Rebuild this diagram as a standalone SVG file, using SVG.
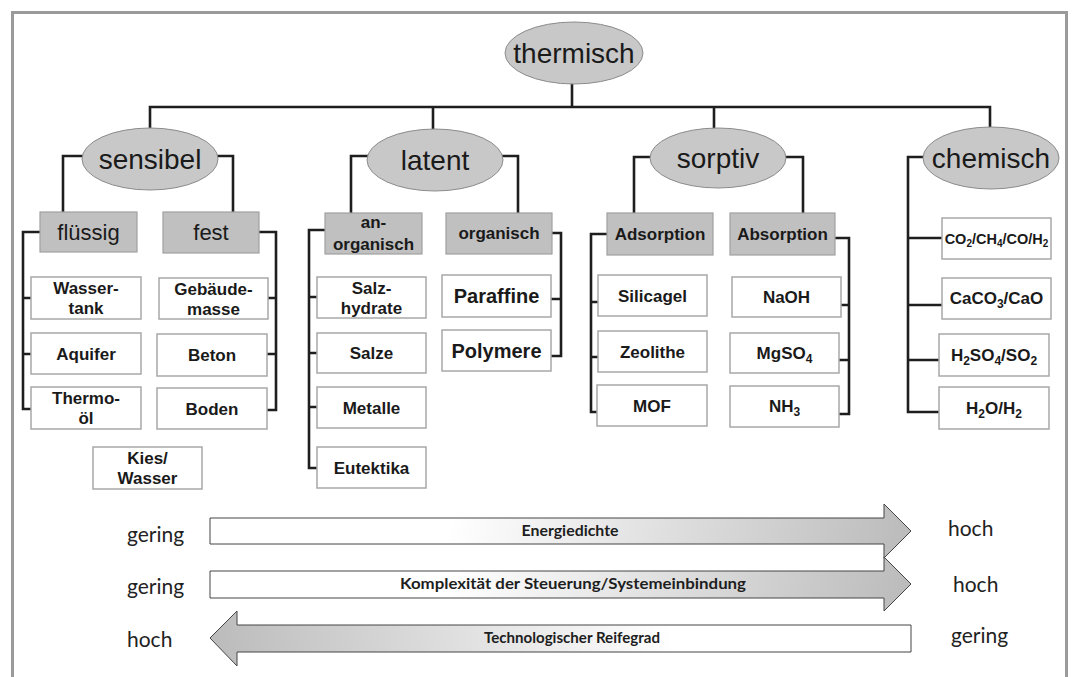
<svg xmlns="http://www.w3.org/2000/svg" width="1073" height="677" viewBox="0 0 1073 677">
<defs>
<style>
.frame{fill:none;stroke:#9a9a9a;stroke-width:3}
.conn{fill:none;stroke:#1e1e1e;stroke-width:2.6;stroke-linejoin:miter;stroke-linecap:square}
.ell{fill:#c8c8c8;stroke:#8c8c8c;stroke-width:1}
.cat{fill:#c0c0c0;stroke:#a0a0a0;stroke-width:1.2}
.item{fill:#fff;stroke:#a8a8a8;stroke-width:1.5}
text{fill:#1a1a1a}
.te{font-family:"Liberation Sans",Arial,sans-serif;font-size:28px;text-anchor:middle}
.tc{font-family:"Liberation Sans",Arial,sans-serif;font-size:22px;text-anchor:middle}
.tb{font-family:"Liberation Sans",Arial,sans-serif;font-size:17px;font-weight:bold;text-anchor:middle}
.tp{font-family:"Liberation Sans",Arial,sans-serif;font-size:20px;font-weight:bold;text-anchor:middle}
.lbl{font-family:Lato,"Open Sans",sans-serif;font-size:21px;fill:#222}
.al{font-family:Lato,"Open Sans",sans-serif;font-size:15px;font-weight:bold;text-anchor:middle;fill:#1e1e1e}
.arr{stroke:#444;stroke-width:1}
</style>
<linearGradient id="gR" x1="0" y1="0" x2="1" y2="0.02">
<stop offset="0" stop-color="#ffffff"/>
<stop offset="0.35" stop-color="#ffffff"/>
<stop offset="1" stop-color="#bcbcbc"/>
</linearGradient>
<linearGradient id="gL" x1="1" y1="0" x2="0" y2="0.02">
<stop offset="0" stop-color="#ffffff"/>
<stop offset="0.35" stop-color="#ffffff"/>
<stop offset="1" stop-color="#bcbcbc"/>
</linearGradient>
</defs>
<path class="frame" d="M12.5,677 V12.5 H1066.5 V677"/>
<g id="connectors">
<path class="conn" d="M572,84 V107 M150,128 V107 H990 V127 M433,107 V129 M714,107 V128"/>
<path class="conn" d="M84,156 H63 V211 M217,156 H233 V211"/>
<path class="conn" d="M40,232 H23 V409 H31 M23,298 H31 M23,354 H31"/>
<path class="conn" d="M259,232 H276 V410 H267 M276,298 H268 M276,354 H267"/>
<path class="conn" d="M368,156 H351 V212 M502,156 H518 V213"/>
<path class="conn" d="M325,230 H309 V468 H317 M309,297 H317 M309,353 H317 M309,407 H317"/>
<path class="conn" d="M552,233 H561 V356 H551 M561,299 H551"/>
<path class="conn" d="M651,157 H634 V213 M786,157 H803 V213"/>
<path class="conn" d="M607,234 H591 V412 H597 M591,302 H598 M591,357 H598"/>
<path class="conn" d="M835,238 H849 V414 H839 M849,305 H841 M849,360 H839"/>
<path class="conn" d="M924,157 H908 V412 H939 M908,238 H942 M908,305 H942 M908,360 H939"/>
</g>
<g id="thermisch"><ellipse class="ell" cx="574" cy="53" rx="69" ry="31"/><text class="te" x="574" y="63">thermisch</text></g>
<g id="sensibel"><ellipse class="ell" cx="150" cy="159" rx="68" ry="31"/><text class="te" x="150" y="169">sensibel</text></g>
<g id="latent"><ellipse class="ell" cx="435" cy="160" rx="68" ry="31"/><text class="te" x="435" y="170">latent</text></g>
<g id="sorptiv"><ellipse class="ell" cx="718" cy="158" rx="68" ry="30"/><text class="te" x="718" y="168">sorptiv</text></g>
<g id="chemisch"><ellipse class="ell" cx="991" cy="158" rx="68" ry="31"/><text class="te" x="991" y="168">chemisch</text></g>

<g id="fluessig"><rect class="cat" x="40" y="212" width="97" height="40"/><text class="tc" x="88.5" y="240">flüssig</text></g>
<g id="fest"><rect class="cat" x="163" y="212" width="96" height="41"/><text class="tc" x="211" y="240">fest</text></g>
<g id="anorganisch"><rect class="cat" x="325" y="213" width="97" height="41"/><text class="tb" x="373.5" y="228">an-</text><text class="tb" x="373.5" y="250">organisch</text></g>
<g id="organisch"><rect class="cat" x="446" y="213" width="106" height="41"/><text class="tb" x="499" y="239">organisch</text></g>
<g id="adsorption"><rect class="cat" x="607" y="213" width="106" height="42"/><text class="tb" x="660" y="240">Adsorption</text></g>
<g id="absorption"><rect class="cat" x="730" y="213" width="105" height="42"/><text class="tb" x="782.5" y="240">Absorption</text></g>

<g id="wassertank"><rect class="item" x="31" y="277" width="110" height="42"/><text class="tb" x="86" y="294">Wasser-</text><text class="tb" x="86" y="314">tank</text></g>
<g id="aquifer"><rect class="item" x="31" y="333" width="110" height="41"/><text class="tb" x="86" y="360">Aquifer</text></g>
<g id="thermooel"><rect class="item" x="31" y="387" width="110" height="42"/><text class="tb" x="86" y="404">Thermo-</text><text class="tb" x="86" y="424">öl</text></g>
<g id="kieswasser"><rect class="item" x="93" y="447" width="109" height="42"/><text class="tb" x="147.5" y="464">Kies/</text><text class="tb" x="147.5" y="484">Wasser</text></g>
<g id="gebaeudemasse"><rect class="item" x="159" y="278" width="109" height="41"/><text class="tb" x="213.5" y="295">Gebäude-</text><text class="tb" x="213.5" y="315">masse</text></g>
<g id="beton"><rect class="item" x="157" y="334" width="110" height="42"/><text class="tb" x="212" y="361">Beton</text></g>
<g id="boden"><rect class="item" x="157" y="388" width="110" height="41"/><text class="tb" x="212" y="415">Boden</text></g>

<g id="salzhydrate"><rect class="item" x="317" y="277" width="109" height="41"/><text class="tb" x="371.5" y="294">Salz-</text><text class="tb" x="371.5" y="314">hydrate</text></g>
<g id="salze"><rect class="item" x="317" y="333" width="109" height="40"/><text class="tb" x="371.5" y="359">Salze</text></g>
<g id="metalle"><rect class="item" x="317" y="387" width="109" height="41"/><text class="tb" x="371.5" y="414">Metalle</text></g>
<g id="eutektika"><rect class="item" x="317" y="447" width="109" height="41"/><text class="tb" x="371.5" y="474">Eutektika</text></g>
<g id="paraffine"><rect class="item" x="442" y="275" width="109" height="42"/><text class="tp" x="496.5" y="303">Paraffine</text></g>
<g id="polymere"><rect class="item" x="442" y="330" width="109" height="41"/><text class="tp" x="496.5" y="358">Polymere</text></g>

<g id="silicagel"><rect class="item" x="598" y="275" width="109" height="41"/><text class="tb" x="652.5" y="302">Silicagel</text></g>
<g id="zeolithe"><rect class="item" x="598" y="331" width="109" height="41"/><text class="tb" x="652.5" y="358">Zeolithe</text></g>
<g id="mof"><rect class="item" x="597" y="385" width="110" height="41"/><text class="tb" x="652" y="412">MOF</text></g>
<g id="naoh"><rect class="item" x="732" y="277" width="109" height="40"/><text class="tb" x="786.5" y="303">NaOH</text></g>
<g id="mgso4"><rect class="item" x="730" y="333" width="109" height="40"/><text class="tb" x="784.5" y="359">MgSO<tspan dy="4" font-size="12">4</tspan></text></g>
<g id="nh3"><rect class="item" x="730" y="386" width="109" height="41"/><text class="tb" x="784.5" y="412">NH<tspan dy="4" font-size="12">3</tspan></text></g>

<g id="co2ch4"><rect class="item" x="942" y="218" width="109" height="41"/><text class="tb" x="996.5" y="244" style="font-size:14.5px">CO<tspan dy="3" font-size="10">2</tspan><tspan dy="-3">/CH</tspan><tspan dy="3" font-size="10">4</tspan><tspan dy="-3">/CO/H</tspan><tspan dy="3" font-size="10">2</tspan></text></g>
<g id="caco3"><rect class="item" x="942" y="278" width="109" height="41"/><text class="tb" x="996.5" y="304">CaCO<tspan dy="4" font-size="12">3</tspan><tspan dy="-4">/CaO</tspan></text></g>
<g id="h2so4"><rect class="item" x="939" y="334" width="110" height="42"/><text class="tb" x="994" y="361">H<tspan dy="4" font-size="12">2</tspan><tspan dy="-4">SO</tspan><tspan dy="4" font-size="12">4</tspan><tspan dy="-4">/SO</tspan><tspan dy="4" font-size="12">2</tspan></text></g>
<g id="h2oh2"><rect class="item" x="939" y="387" width="110" height="42"/><text class="tb" x="994" y="414">H<tspan dy="4" font-size="12">2</tspan><tspan dy="-4">O/H</tspan><tspan dy="4" font-size="12">2</tspan></text></g>

<g id="arrow-energiedichte">
<path class="arr" fill="url(#gR)" d="M210,518 H884 V504 L911,531 L884,558 V544 H210 Z"/>
<text class="al" x="570" y="536" textLength="97" lengthAdjust="spacingAndGlyphs">Energiedichte</text>
<text class="lbl" x="127" y="542">gering</text>
<text class="lbl" x="948" y="536">hoch</text>
</g>
<g id="arrow-komplexitaet">
<path class="arr" fill="url(#gR)" d="M210,571 H884 V557 L911,584 L884,611 V598 H210 Z"/>
<text class="al" x="573" y="589" textLength="346" lengthAdjust="spacingAndGlyphs">Komplexität der Steuerung/Systemeinbindung</text>
<text class="lbl" x="127" y="594">gering</text>
<text class="lbl" x="953" y="592">hoch</text>
</g>
<g id="arrow-reifegrad">
<path class="arr" fill="url(#gL)" d="M911,625 H237 V611 L210,638 L237,666 V652 H911 Z"/>
<text class="al" x="572" y="643" textLength="176" lengthAdjust="spacingAndGlyphs">Technologischer Reifegrad</text>
<text class="lbl" x="127" y="647">hoch</text>
<text class="lbl" x="951" y="643">gering</text>
</g>
</svg>
